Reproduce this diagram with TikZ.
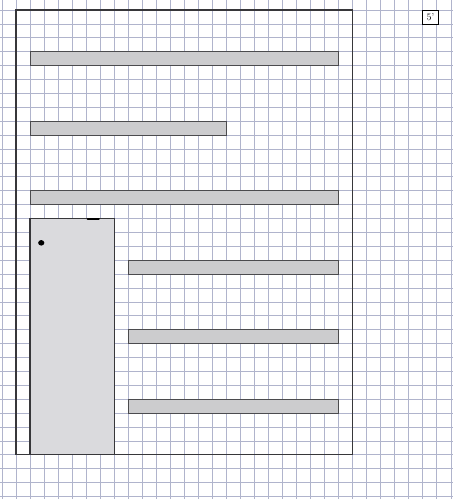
\documentclass[tikz,border=0pt]{standalone}
\usepackage{tikz}
\usepackage{color}

\definecolor{gridblue}{RGB}{176,180,204}
\definecolor{pencil}{RGB}{55,55,58}
\definecolor{shade}{RGB}{204,204,206}
\definecolor{lightshade}{RGB}{218,218,221}

\begin{document}
\begin{tikzpicture}[
  x=0.5cm, y=-0.4954cm,
  gridline/.style={draw=gridblue, line width=0.8pt},
  page/.style={draw=pencil, line width=1.1pt},
  textbar/.style={draw=pencil!90, fill=shade, line width=1pt},
  imagebox/.style={draw=pencil, fill=lightshade, line width=1.1pt},
  pagenum/.style={draw=black, line width=0.9pt, inner sep=1pt,
    minimum width=0.58cm, minimum height=0.52cm, font=\normalsize},
  >=latex]
    \useasboundingbox (-1.140,-0.719) rectangle (31.147,35.18);
    \fill[white] (-1.140,-0.719) rectangle (31.147,35.18);
%   the squared paper
    \foreach \c in {-1,...,31}
      \draw[gridline] (\c,-0.719) -- (\c,35.18);
    \foreach \r in {0,...,35}
      \draw[gridline] (-1.140,\r) -- (31.147,\r);
    \node[pagenum, fill=white] (num) at (29.55,0.55) {5'};
%   page outline
    \draw[page] (0,0) rectangle (24,32);
    \draw[textbar] (1,3) rectangle (23,4);
    \draw[textbar] (1,8) rectangle (15,9);
    \draw[textbar] (1,13) rectangle (23,14);
    \draw[imagebox] (1,15) rectangle (7,32);
    \draw[textbar] (8,18) rectangle (23,19);
    \draw[textbar] (8,23) rectangle (23,24);
    \draw[textbar] (8,28) rectangle (23,29);
%   pencil smudges
    \fill[black] (1.8,16.75) ellipse (0.22 and 0.2);
    \draw[black, line width=2pt, line cap=round] (5.1,15.05) -- (5.9,15.05);
\end{tikzpicture}
\end{document}
